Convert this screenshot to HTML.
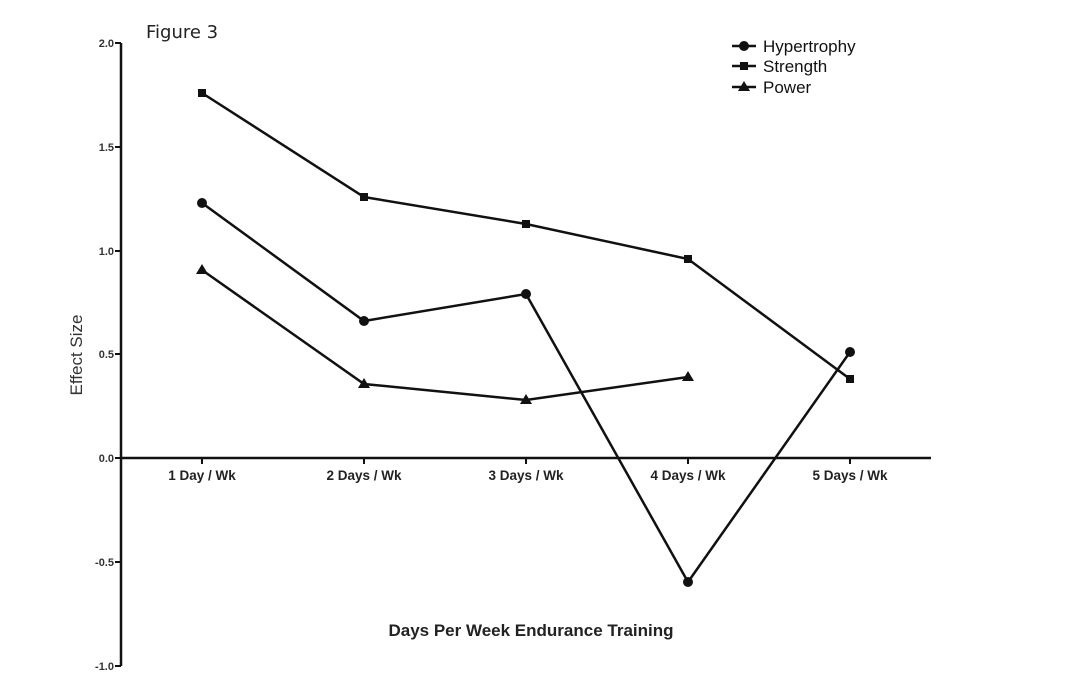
<!DOCTYPE html>
<html><head><style>body{margin:0;background:#fff}svg{display:block}</style></head><body>
<svg width="1070" height="695" xmlns="http://www.w3.org/2000/svg" font-family="Liberation Sans, Arial, sans-serif">
<rect width="1070" height="695" fill="#fff"/>
<text x="146" y="38" font-size="18" font-family="DejaVu Sans, sans-serif" fill="#222">Figure 3</text>
<g stroke="#111" stroke-width="2.5" fill="none">
<line x1="121" y1="43" x2="121" y2="666"/>
<line x1="121" y1="458" x2="931" y2="458"/>
</g>
<g stroke="#111" stroke-width="2">
<line x1="115" y1="43" x2="121" y2="43"/><line x1="115" y1="147" x2="121" y2="147"/>
<line x1="115" y1="251" x2="121" y2="251"/><line x1="115" y1="354" x2="121" y2="354"/>
<line x1="115" y1="458" x2="121" y2="458"/><line x1="115" y1="562" x2="121" y2="562"/>
<line x1="115" y1="666" x2="121" y2="666"/>
<line x1="202" y1="458" x2="202" y2="464"/><line x1="364" y1="458" x2="364" y2="464"/>
<line x1="526" y1="458" x2="526" y2="464"/><line x1="688" y1="458" x2="688" y2="464"/>
<line x1="850" y1="458" x2="850" y2="464"/>
</g>
<g font-size="11" fill="#333" text-anchor="end" font-weight="bold">
<text x="114" y="47">2.0</text><text x="114" y="151">1.5</text><text x="114" y="255">1.0</text>
<text x="114" y="358">0.5</text><text x="114" y="462">0.0</text><text x="114" y="566">-0.5</text><text x="114" y="670">-1.0</text>
</g>
<g font-size="13.5" font-weight="bold" fill="#222" text-anchor="middle">
<text x="202" y="480">1 Day / Wk</text><text x="364" y="480">2 Days / Wk</text><text x="526" y="480">3 Days / Wk</text>
<text x="688" y="480">4 Days / Wk</text><text x="850" y="480">5 Days / Wk</text>
</g>
<text x="531" y="636" font-size="17" font-weight="bold" fill="#222" text-anchor="middle">Days Per Week Endurance Training</text>
<text transform="translate(82,355) rotate(-90)" font-size="17" fill="#333" text-anchor="middle">Effect Size</text>
<g stroke="#111" stroke-width="2.5" fill="none">
<polyline points="202,93 364,197 526,224 688,259 850,379"/>
<polyline points="202,203 364,321 526,294 688,582 850,352"/>
<polyline points="202,270 364,384 526,400 688,377"/>
</g>
<g fill="#111">
<rect x="198" y="89" width="8" height="8"/><rect x="360" y="193" width="8" height="8"/><rect x="522" y="220" width="8" height="8"/><rect x="684" y="255" width="8" height="8"/><rect x="846" y="375" width="8" height="8"/>
<circle cx="202" cy="203" r="5"/><circle cx="364" cy="321" r="5"/><circle cx="526" cy="294" r="5"/><circle cx="688" cy="582" r="5"/><circle cx="850" cy="352" r="5"/>
<polygon points="202,264 208,274 196,274"/><polygon points="364,378 370,388 358,388"/><polygon points="526,394 532,404 520,404"/><polygon points="688,371 694,381 682,381"/>
</g>
<g stroke="#111" stroke-width="2.5"><line x1="732" y1="46" x2="756" y2="46"/><line x1="732" y1="66" x2="756" y2="66"/><line x1="732" y1="87" x2="756" y2="87"/></g>
<g fill="#111"><circle cx="744" cy="46" r="5"/><rect x="740" y="62" width="8" height="8"/><polygon points="744,81 750,91 738,91"/></g>
<g font-size="17" fill="#111"><text x="763" y="52">Hypertrophy</text><text x="763" y="72">Strength</text><text x="763" y="93">Power</text></g>
</svg>
</body></html>
